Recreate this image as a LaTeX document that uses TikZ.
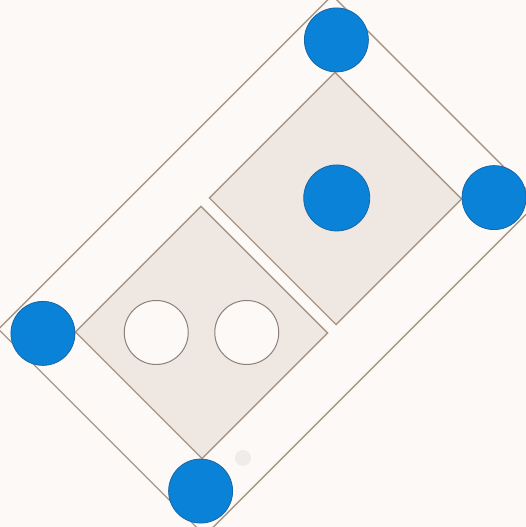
\documentclass[tikz,border=0pt]{standalone}
\definecolor{bgc}{HTML}{FCF9F6}
\definecolor{tile}{HTML}{EEE7E2}
\definecolor{edge}{HTML}{A89684}
\definecolor{pip}{HTML}{0A82D8}
\definecolor{pipedge}{HTML}{1567A8}
\definecolor{holeedge}{HTML}{8C8078}
\definecolor{faint}{HTML}{EFECEA}
\tikzset{
  frame/.style={draw=edge, line width=1.4pt, fill=bgc},
  tilebox/.style={draw=edge, line width=1.4pt, fill=tile},
  bluepip/.style={draw=pipedge, line width=0.8pt, fill=pip},
  hole/.style={draw=holeedge, line width=1pt, fill=bgc}
}
\begin{document}
\begin{tikzpicture}[x=1pt,y=1pt]
\useasboundingbox (0,0) rectangle (526,527);
\fill[bgc] (0,0) rectangle (526,527);
\clip (0,0) rectangle (526,527);
\begin{scope}[shift={(268.5,261.5)}, rotate=45]
  \path[frame] (-236,-146) rectangle (236,146);
  \path[tilebox] (6,-89.5) rectangle (183.5,89.5);
  \path[tilebox] (-183.5,-89.5) rectangle (-6,89.5);
  \path[bluepip] (96,-0.5) circle (33);
  \path[hole] (-126.75,32) circle (32);
  \path[hole] (-62.75,-32) circle (32);
  \path[bluepip] (207.5,111.5) circle (32);
  \path[bluepip] (207.5,-111.5) circle (32);
  \path[bluepip] (-207.5,111.5) circle (32);
  \path[bluepip] (-207.5,-111.5) circle (32);
\end{scope}
\fill[faint] (243,69) circle (8);
\end{tikzpicture}
\end{document}
